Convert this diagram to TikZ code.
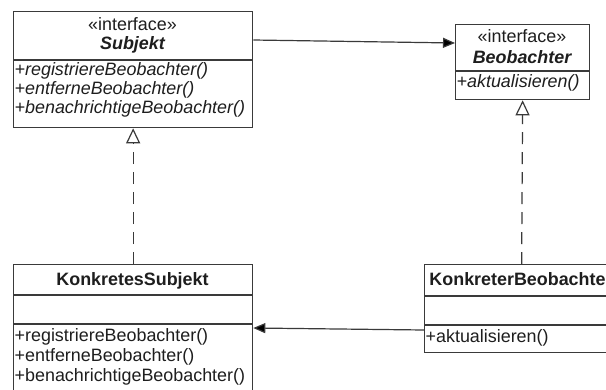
\documentclass[tikz,border=0pt]{standalone}
\usepackage{fontspec}
\setmainfont{Liberation Sans}
\usetikzlibrary{arrows.meta}
\definecolor{umlline}{HTML}{3A3A3A}
\definecolor{umltext}{HTML}{1E1E1E}
\begin{document}
\begin{tikzpicture}[x=1pt,y=-1pt,
  classbox/.style={draw=umlline, line width=1.3pt, fill=white, inner sep=0pt, anchor=north west},
  divider/.style={draw=umlline, line width=1.3pt},
  lbl/.style={inner sep=0pt, text=umltext, font=\fontsize{17.9}{20}\selectfont},
  member/.style={lbl, anchor=base west},
  title/.style={lbl, anchor=base},
  assoc/.style={draw=umlline, line width=1.2pt, -{Triangle[width=10pt,length=12pt,fill=black]}},
  realize/.style={draw=umlline, line width=1.2pt, dash pattern=on 12pt off 8pt,
    -{Triangle[open,width=14pt,length=15pt,fill=white]}}
]
\useasboundingbox (0,0) rectangle (606,389);
\clip (0,0) rectangle (606,389);

% interface Subjekt
\node[classbox, minimum width=239pt, minimum height=116pt] (subj) at (13,11) {};
\draw[divider] ([yshift=-49pt]subj.north west) -- ([yshift=-49pt]subj.north east);
\node[title] (subjst) at (132.5,30) {«interface»};
\node[title] (subjname) at (132.5,49) {\bfseries\itshape Subjekt};
\node[member] (subjm1) at (14.5,75) {\itshape +registriereBeobachter()};
\node[member] (subjm2) at (14.5,94) {\itshape +entferneBeobachter()};
\node[member] (subjm3) at (14.5,113) {\itshape +benachrichtigeBeobachter()};

% interface Beobachter
\node[classbox, minimum width=134pt, minimum height=75pt] (beob) at (455,24) {};
\draw[divider] ([yshift=-47pt]beob.north west) -- ([yshift=-47pt]beob.north east);
\node[title] (beobst) at (522,42) {«interface»};
\node[title] (beobname) at (522,63) {\bfseries\itshape Beobachter};
\node[member] (beobm1) at (456.5,87) {\itshape +aktualisieren()};

% class KonkretesSubjekt
\node[classbox, minimum width=239pt, minimum height=135pt] (ks) at (13,264) {};
\draw[divider] ([yshift=-31pt]ks.north west) -- ([yshift=-31pt]ks.north east);
\draw[divider] ([yshift=-60pt]ks.north west) -- ([yshift=-60pt]ks.north east);
\node[title] (ksname) at (132.5,285) {\bfseries KonkretesSubjekt};
\node[member] (ksm1) at (14.5,341) {+registriereBeobachter()};
\node[member] (ksm2) at (14.5,361) {+entferneBeobachter()};
\node[member] (ksm3) at (14.5,381) {+benachrichtigeBeobachter()};

% class KonkreterBeobachter (its right part runs past the page edge)
\node[classbox, minimum width=194pt, minimum height=88pt] (kb) at (424,264) {};
\draw[divider] ([yshift=-32pt]kb.north west) -- ([yshift=-32pt]kb.north east);
\draw[divider] ([yshift=-61pt]kb.north west) -- ([yshift=-61pt]kb.north east);
\node[title] (kbname) at (521,285) {\bfseries KonkreterBeobachter};
\node[member] (kbm1) at (425.5,342) {+aktualisieren()};

% associations
\draw[assoc] ([yshift=-29pt]subj.north east) -- ([yshift=-19pt]beob.north west);
\draw[assoc] ([yshift=-66pt]kb.north west) -- ([yshift=-64pt]ks.north east);

% realizations
\draw[realize] (ks.north) -- (subj.south);
\draw[realize] (kb.north) -- (beob.south);
\end{tikzpicture}
\end{document}
